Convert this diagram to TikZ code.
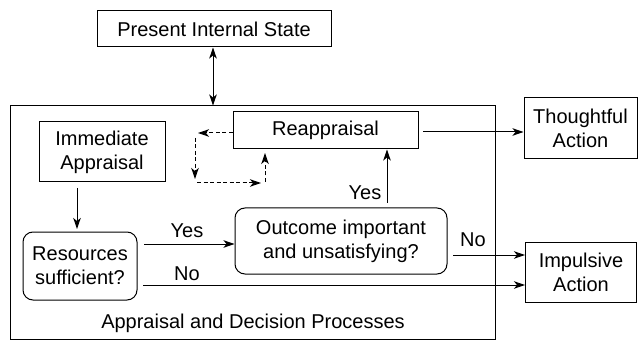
\documentclass[tikz,border=0pt]{standalone}
\usepackage{fontspec}
\setmainfont{Liberation Sans}
\usetikzlibrary{arrows.meta,calc}
\begin{document}
\begin{tikzpicture}[x=1pt,y=-1pt,
  every node/.style={font=\fontsize{20}{24}\selectfont, align=center, inner sep=0pt},
  box/.style={draw, line width=1pt},
  rbox/.style={draw, line width=1pt, rounded corners=10pt},
  conn/.style={line width=1pt, -{Stealth[length=11pt,width=7.5pt,inset=3pt]}},
  dconn/.style={conn, dash pattern=on 4pt off 2.5pt}]
\useasboundingbox (0,0) rectangle (643,342);
\node[box, minimum width=234pt, minimum height=36pt] (pis) at (214,29) {Present Internal State};
\node[box, minimum width=485pt, minimum height=233pt] (big) at (252.5,222.5) {};
\node[box, minimum width=126pt, minimum height=60pt] (imm) at (102,152) {Immediate\\Appraisal};
\node[rbox, minimum width=114pt, minimum height=68pt] (res) at (80,266) {Resources\\sufficient?};
\node[rbox, minimum width=212pt, minimum height=66pt] (out) at (341,241) {Outcome important\\and unsatisfying?};
\node[box, minimum width=185pt, minimum height=37pt] (reap) at (325.5,130.5) {Reappraisal};
\node[box, minimum width=113pt, minimum height=61pt] (tho) at (580.5,128.5) {Thoughtful\\Action};
\node[box, minimum width=111pt, minimum height=60pt] (imp) at (581,272) {Impulsive\\Action};
\node (lbl) at (253,323) {Appraisal and Decision Processes};
\node (yes1) at (187,231) {Yes};
\node (no1) at (187,274) {No};
\node (yes2) at (365,193) {Yes};
\node (no2) at (473,240) {No};
% connectors
\draw[line width=1pt, {Stealth[length=11pt,width=7.5pt,inset=3pt]}-{Stealth[length=11pt,width=7.5pt,inset=3pt]}] (pis.south -| 213,0) -- (big.north -| 213,0);
\coordinate (a1) at (77,188);
\coordinate (a2) at (77,229);
\draw[conn] (a1) -- (a2);
\coordinate (y1) at (144,244);
\draw[conn] (y1) -- (out.west |- y1);
\coordinate (n1) at (143,285);
\draw[conn] (n1) -- (imp.west |- n1);
\coordinate (n2) at (453,255);
\draw[conn] (n2) -- (imp.west |- n2);
\coordinate (y2) at (387,203);
\draw[conn] (y2) -- (reap.south -| y2);
\coordinate (t1) at (423,132);
\draw[conn] (t1) -- (tho.west |- t1);
% dashed loop
\coordinate (d1) at (198,133);
\draw[dconn] (reap.west |- d1) -- (d1);
\coordinate (d2) at (195,138);
\coordinate (d3) at (195,179);
\draw[dconn] (d2) -- (d3);
\coordinate (d4) at (197,183);
\coordinate (d5) at (261,183);
\draw[dconn] (d4) -- (d5);
\coordinate (d6) at (265,182);
\coordinate (d7) at (265,153);
\draw[dconn] (d6) -- (d7);
\end{tikzpicture}
\end{document}
